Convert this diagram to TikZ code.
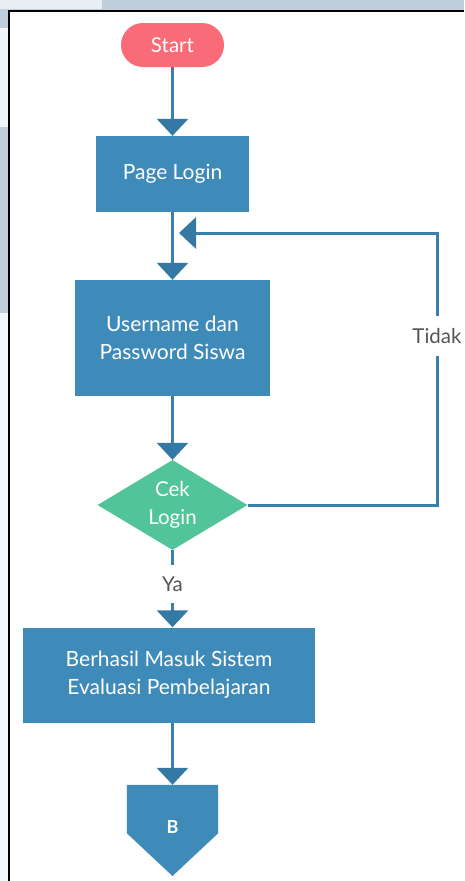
\documentclass[tikz,border=0pt]{standalone}
\usepackage{fontspec}
\setmainfont{Lato}
\usetikzlibrary{shapes.geometric,arrows.meta}
\definecolor{boxblue}{HTML}{3E8BBA}
\definecolor{linkblue}{HTML}{3A80AC}
\definecolor{tipblue}{HTML}{3479A3}
\definecolor{startred}{HTML}{F96B77}
\definecolor{decgreen}{HTML}{52C49A}
\definecolor{labgrey}{HTML}{555555}
\definecolor{bgband}{HTML}{BFCEDA}
\definecolor{bglight}{HTML}{E8EEF3}
\tikzset{
  procbox/.style={rectangle, fill=boxblue, text=white, font=\fontsize{21}{28}\selectfont, align=center, inner sep=0pt},
  link/.style={draw=linkblue, line width=3pt, -{Triangle[width=31pt,length=17pt,color=tipblue]}},
  plainlink/.style={draw=linkblue, line width=3pt},
  lab/.style={text=labgrey, font=\fontsize{20.5}{24}\selectfont, inner sep=0pt}
}
\begin{document}
\begin{tikzpicture}[x=1pt,y=-1pt]
\useasboundingbox (0,0) rectangle (464,881);
% background pieces
\fill[white] (0,0) rectangle (464,881);
\fill[bgband] (0,0) rectangle (464,10);
\fill[bglight] (0,0) rectangle (102,9);
\fill[bgband] (0,10) rectangle (9,28);
\fill[bglight!60!white] (0,28) rectangle (9,127);
\fill[bgband] (0,127) rectangle (9,313);
\fill[bglight!50!white] (0,313) rectangle (9,881);
% frame
\draw[black, line width=2pt] (9,881) -- (9,11) -- (464,11);
% nodes
\node[rectangle, rounded corners=22pt, fill=startred, text=white, minimum width=103pt, minimum height=44pt, inner sep=0pt, font=\fontsize{20.5}{24}\selectfont] (start) at (172.5,45) {Start};
\node[procbox, minimum width=153pt, minimum height=76pt] (page) at (172.5,174) {Page Login};
\node[procbox, minimum width=195pt, minimum height=116pt] (user) at (172.5,338) {Username dan\\Password Siswa};
\node[diamond, fill=decgreen, text=white, aspect=1.667, minimum width=150pt, minimum height=90pt, inner sep=0pt, align=center, font=\fontsize{20.5}{28}\selectfont] (cek) at (172.5,505) {Cek\\Login};
\node[lab, minimum height=38pt] (ya) at (172.5,584) {Ya};
\node[procbox, minimum width=292pt, minimum height=95pt] (masuk) at (169,675) {Berhasil Masuk Sistem\\Evaluasi Pembelajaran};
\node[inner sep=0pt, minimum width=91pt, minimum height=48pt] (conn) at (172.5,809) {};
\fill[boxblue] (conn.north west) -- (conn.north east) -- (conn.south east) -- (172.5,876) -- (conn.south west) -- cycle;
\node[text=white, font=\fontsize{18}{18}\bfseries, inner sep=0pt] (bl) at (172.5,827) {B};
\node[lab, minimum height=39pt] (tidak) at (437,336) {Tidak};
\coordinate (c1) at (437,505);
\coordinate (c2) at (437,233);
\coordinate (loopend) at (179,233);
% connectors
\draw[link] (start.south) -- (page.north);
\draw[link] (page.south) -- (user.north);
\draw[link] (user.south) -- (cek.north);
\draw[plainlink] (cek.south) -- (ya.north);
\draw[link] (ya.south) -- (masuk.north -| ya.south);
\draw[link] (masuk.south -| conn.north) -- (conn.north);
\draw[plainlink] (cek.east) -- (c1) -- (tidak.south);
\draw[link] (tidak.north) -- (c2) -- (loopend);
\end{tikzpicture}
\end{document}
